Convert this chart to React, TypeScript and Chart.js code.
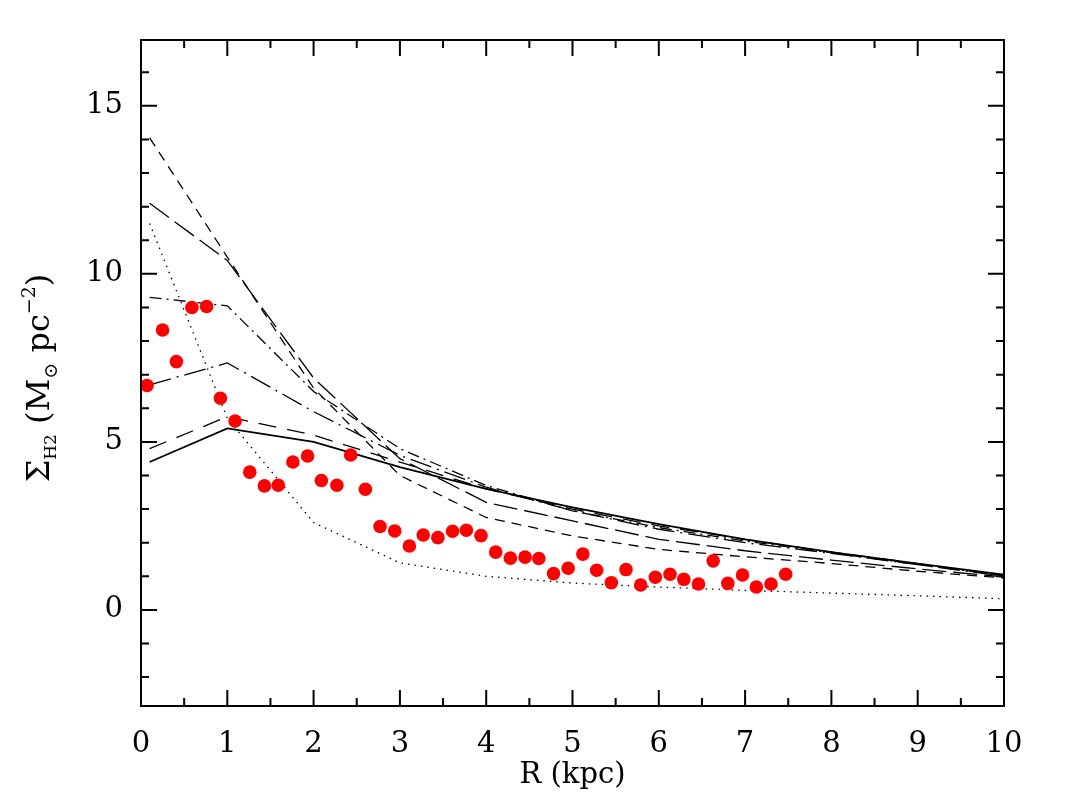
import React, { useEffect, useRef } from "react";
import { Chart, registerables } from "chart.js";

Chart.register(...registerables);

// Model radii (kpc)
const modelR = [0.1, 1, 2, 3, 4, 5, 6, 7, 8, 9, 10];
// Model curves (Sigma_H2, Msun pc^-2)
const modelShortDash = [14.05, 10.5, 6.6, 4.0, 2.75, 2.2, 1.8, 1.58, 1.38, 1.15, 0.95];
const modelLongDash = [12.1, 10.4, 6.9, 4.5, 3.2, 2.65, 2.1, 1.76, 1.48, 1.22, 0.98];
const modelDotted = [11.5, 5.7, 2.6, 1.4, 1.0, 0.8, 0.68, 0.58, 0.5, 0.42, 0.33];
const modelDashDotShort = [9.3, 9.05, 6.5, 4.8, 3.7, 2.95, 2.45, 2.05, 1.7, 1.35, 1.02];
const modelDashDotLong = [6.7, 7.35, 5.9, 4.6, 3.65, 2.95, 2.4, 2.0, 1.68, 1.35, 1.0];
const modelSparseDash = [4.8, 5.75, 5.2, 4.4, 3.6, 3.0, 2.5, 2.1, 1.72, 1.38, 1.02];
const modelSolid = [4.4, 5.4, 5.0, 4.25, 3.6, 3.05, 2.55, 2.1, 1.72, 1.38, 1.05];

// Observed points
const obsR = [
  0.07, 0.25, 0.41, 0.59, 0.76, 0.92, 1.09, 1.26, 1.43, 1.59, 1.76, 1.93,
  2.09, 2.27, 2.43, 2.6, 2.77, 2.94, 3.11, 3.27, 3.44, 3.61, 3.77, 3.94,
  4.11, 4.28, 4.45, 4.61, 4.78, 4.95, 5.12, 5.28, 5.45, 5.62, 5.79, 5.96,
  6.13, 6.29, 6.46, 6.63, 6.8, 6.97, 7.13, 7.3, 7.47,
];
const obsSigma = [
  6.68, 8.33, 7.39, 9.0, 9.03, 6.3, 5.62, 4.1, 3.69, 3.71, 4.4, 4.58,
  3.85, 3.71, 4.61, 3.59, 2.48, 2.35, 1.9, 2.23, 2.15, 2.34, 2.37, 2.21,
  1.72, 1.54, 1.57, 1.53, 1.08, 1.24, 1.66, 1.18, 0.81, 1.2, 0.74, 0.97,
  1.06, 0.91, 0.77, 1.46, 0.79, 1.04, 0.68, 0.77, 1.06,
];

const yTickValues = [0, 5, 10, 15];
const xTickValues = [0, 1, 2, 3, 4, 5, 6, 7, 8, 9, 10];

const FONT = "'DejaVu Serif', serif";

const toPts = (xs: number[], ys: number[]) => xs.map((x, i) => ({ x, y: ys[i] }));

const framePlugin = {
  id: "frameTicks",
  afterDraw(chart: any) {
    const { ctx, chartArea: a, scales } = chart;
    const xs = scales.x;
    const ys = scales.y;
    ctx.save();
    ctx.strokeStyle = "#000";
    ctx.lineWidth = 2;
    ctx.beginPath();
    ctx.rect(a.left, a.top, a.right - a.left, a.bottom - a.top);
    ctx.stroke();
    ctx.beginPath();
    for (let i = 0; i <= 20; i++) {
      const v = i * 0.5;
      const p = xs.getPixelForValue(v);
      const len = i % 2 === 0 ? 16 : 8;
      ctx.moveTo(p, a.bottom);
      ctx.lineTo(p, a.bottom - len);
      ctx.moveTo(p, a.top);
      ctx.lineTo(p, a.top + len);
    }
    for (let v = -2; v <= 16; v++) {
      const p = ys.getPixelForValue(v);
      const len = v % 5 === 0 ? 16 : 8;
      ctx.moveTo(a.left, p);
      ctx.lineTo(a.left + len, p);
      ctx.moveTo(a.right, p);
      ctx.lineTo(a.right - len, p);
    }
    ctx.stroke();

    // X title
    ctx.fillStyle = "#000";
    ctx.font = `29px ${FONT}`;
    ctx.textAlign = "center";
    ctx.textBaseline = "alphabetic";
    ctx.fillText("R (kpc)", (a.left + a.right) / 2, 783);

    // Y title with sub/superscripts
    const pieces: { t: string; size: number; dy: number }[] = [
      { t: "Σ", size: 32, dy: 0 },
      { t: "H2", size: 17, dy: 7 },
      { t: " (M", size: 32, dy: 0 },
      { t: "⊙", size: 19, dy: 8 },
      { t: " pc", size: 32, dy: 0 },
      { t: "−2", size: 19, dy: -14 },
      { t: ")", size: 32, dy: 0 },
    ];
    let total = 0;
    for (const pc of pieces) {
      ctx.font = `${pc.size}px ${FONT}`;
      total += ctx.measureText(pc.t).width;
    }
    ctx.translate(49, 378);
    ctx.rotate(-Math.PI / 2);
    ctx.textAlign = "left";
    let x = -total / 2;
    for (const pc of pieces) {
      ctx.font = `${pc.size}px ${FONT}`;
      ctx.fillText(pc.t, x, pc.dy);
      x += ctx.measureText(pc.t).width;
    }
    ctx.restore();
  },
};

export default function App() {
  const ref = useRef<HTMLCanvasElement | null>(null);
  useEffect(() => {
    if (!ref.current) return;
    const lineDs = (data: number[], dash: number[], width = 1.3) => ({
      data: toPts(modelR, data),
      showLine: true,
      borderColor: "#000",
      borderWidth: width,
      borderDash: dash,
      pointRadius: 0,
      fill: false,
      order: 2,
    });
    const chart = new Chart(ref.current, {
      type: "scatter",
      data: {
        datasets: [
          {
            data: toPts(obsR, obsSigma),
            backgroundColor: "#ff0000",
            borderColor: "#ff0000",
            borderWidth: 0,
            pointRadius: 6.8,
            order: 1,
          } as any,
          lineDs(modelShortDash, [10, 7]),
          lineDs(modelLongDash, [24, 7]),
          lineDs(modelDotted, [1.5, 5]),
          lineDs(modelDashDotShort, [12, 5, 2, 5]),
          lineDs(modelDashDotLong, [22, 6, 2, 6]),
          lineDs(modelSparseDash, [18, 11]),
          lineDs(modelSolid, [], 1.8),
        ],
      },
      plugins: [framePlugin],
      options: {
        animation: false,
        responsive: false,
        events: [],
        layout: { padding: { left: 0, top: 40, right: 63, bottom: 0 } },
        plugins: { legend: { display: false }, tooltip: { enabled: false } },
        scales: {
          x: {
            type: "linear",
            min: 0,
            max: 10,
            grid: { display: false, drawTicks: false },
            border: { display: false },
            afterBuildTicks: (s: any) => {
              s.ticks = xTickValues.map((v) => ({ value: v }));
            },
            afterFit: (s: any) => {
              s.height = 91;
            },
            ticks: {
              color: "#000",
              padding: 21,
              maxRotation: 0,
              font: { family: FONT, size: 29 },
            },
          },
          y: {
            type: "linear",
            min: -2.86,
            max: 16.96,
            grid: { display: false, drawTicks: false },
            border: { display: false },
            afterBuildTicks: (s: any) => {
              s.ticks = yTickValues.map((v) => ({ value: v }));
            },
            afterFit: (s: any) => {
              s.width = 141;
            },
            ticks: {
              color: "#000",
              padding: 18,
              font: { family: FONT, size: 29 },
            },
          },
        },
      } as any,
    });
    return () => chart.destroy();
  }, []);
  return (
    <canvas
      ref={ref}
      width={1067}
      height={797}
      style={{ position: "absolute", left: 0, top: 0, width: 1067, height: 797 }}
    />
  );
}
